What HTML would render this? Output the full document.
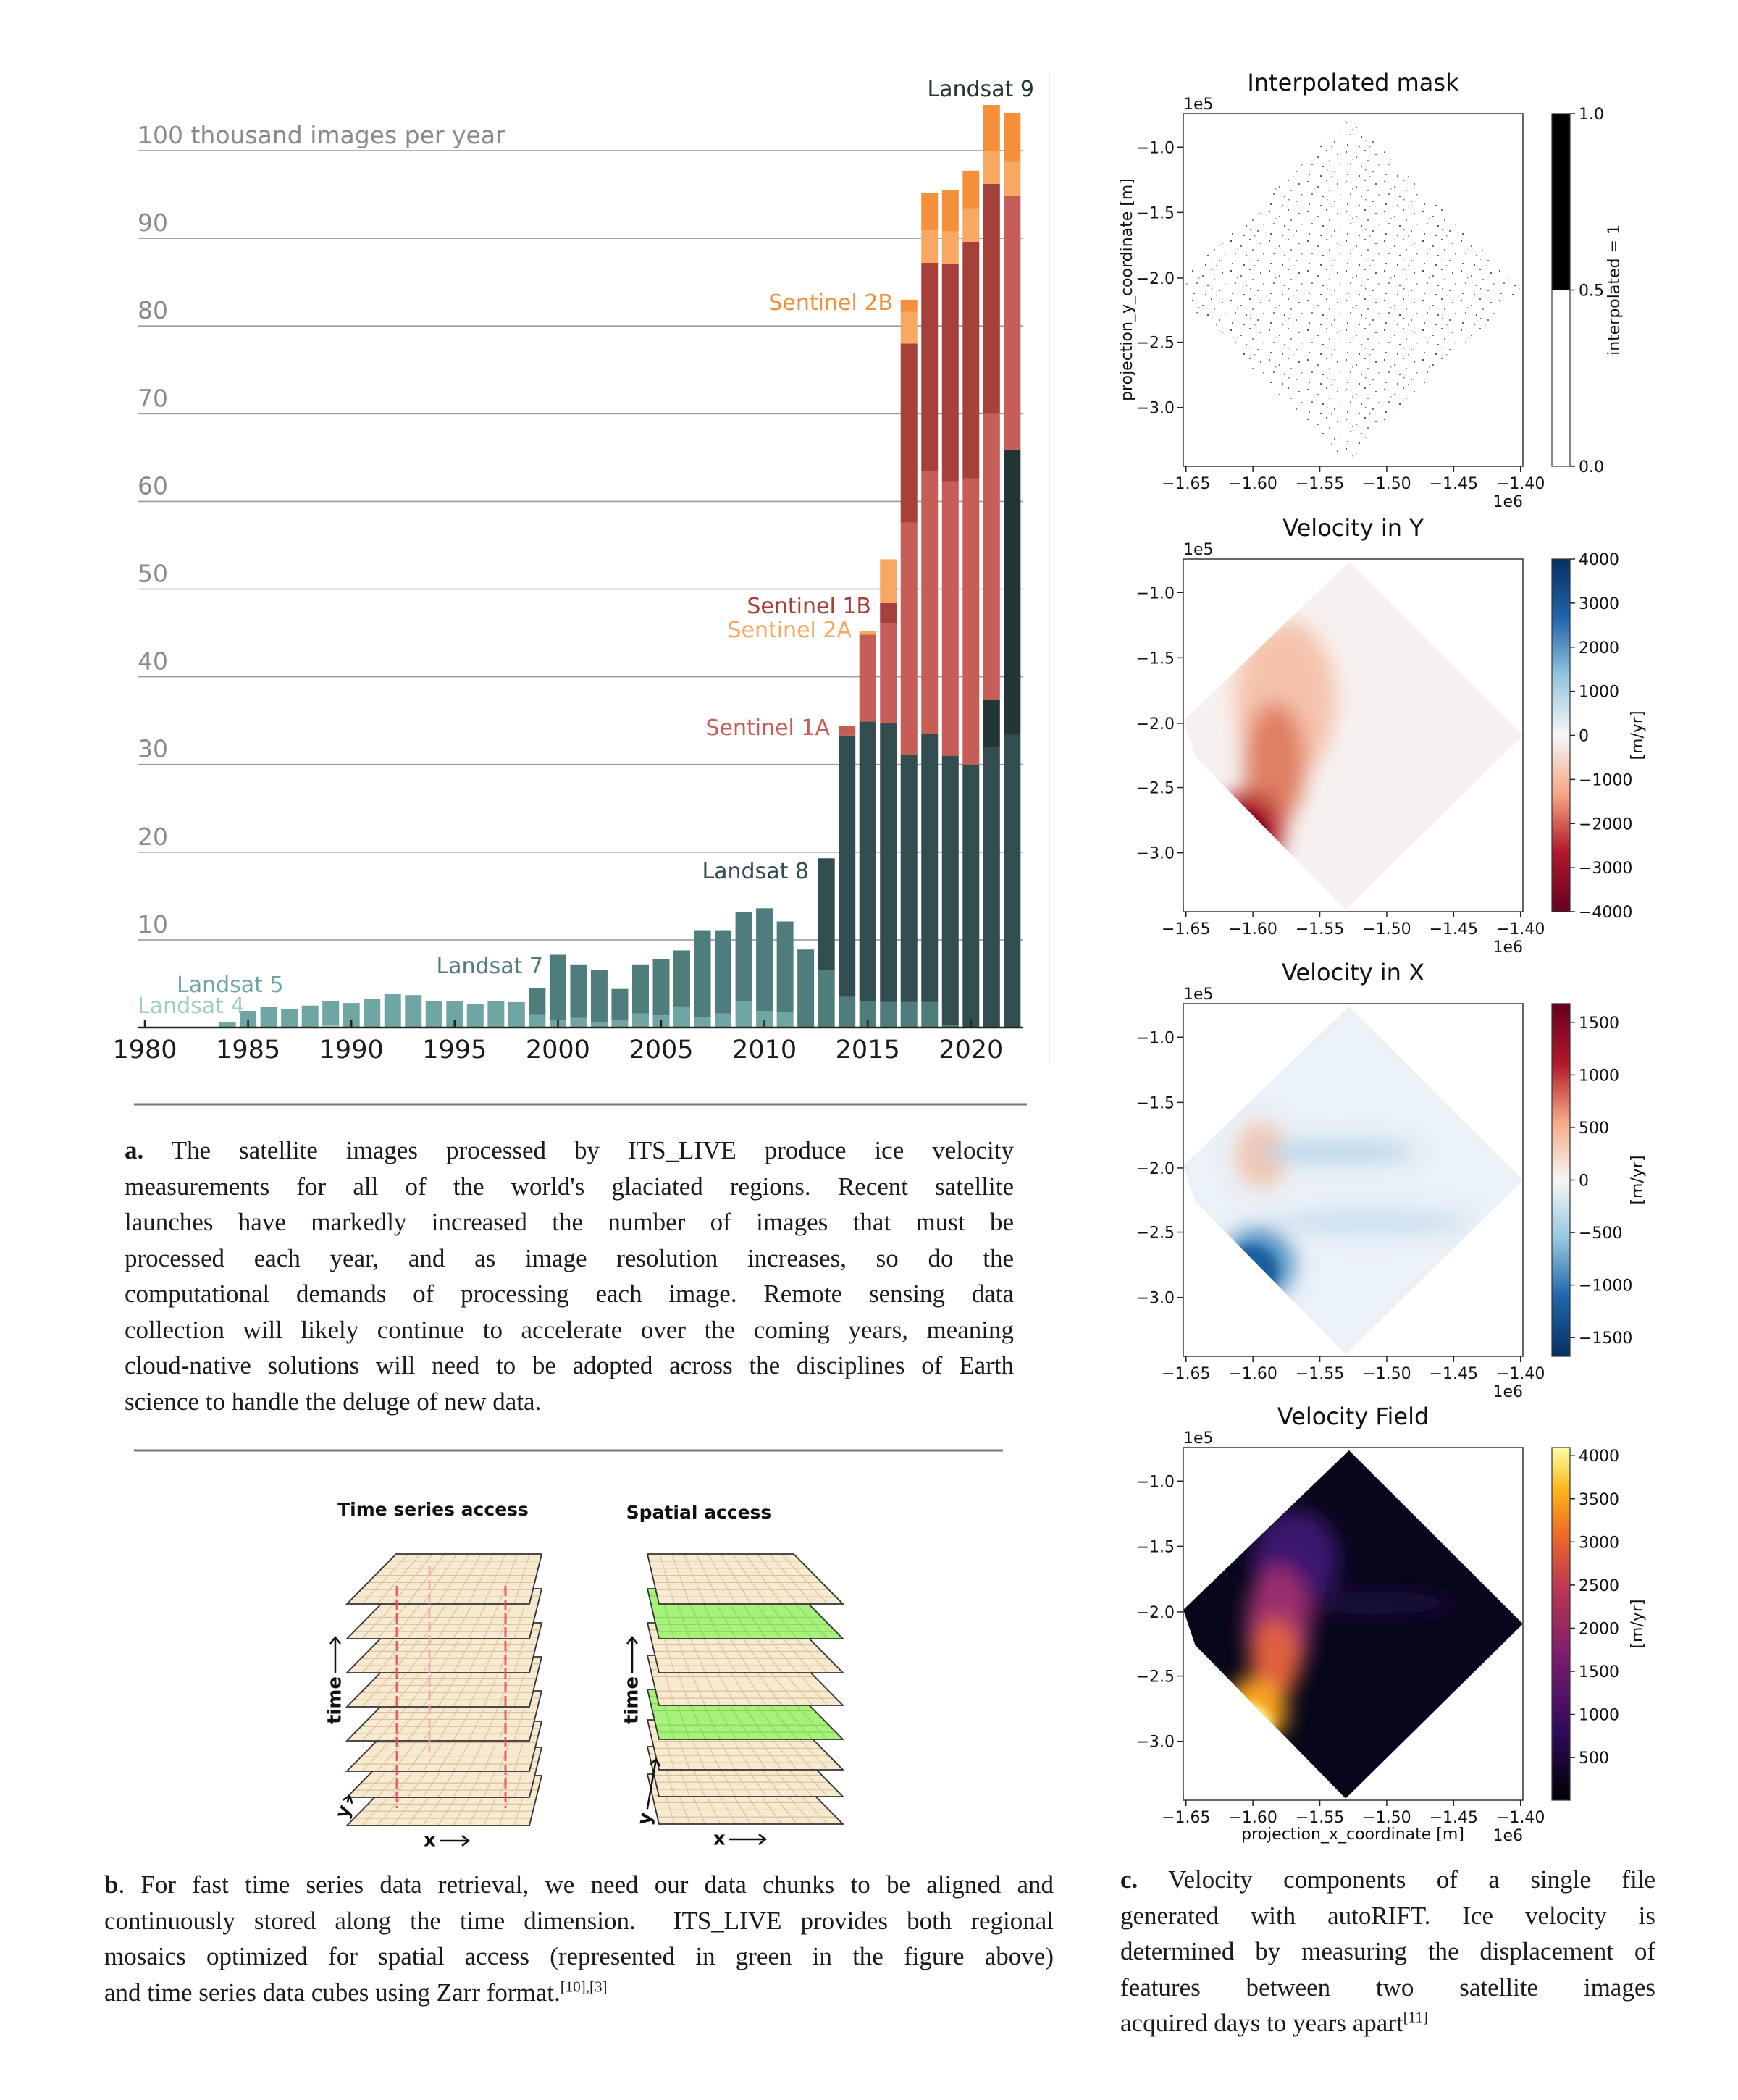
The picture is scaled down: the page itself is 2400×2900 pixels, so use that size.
<!DOCTYPE html>
<html><head><meta charset="utf-8">
<style>
body{margin:0;background:#fff;}
#page{position:relative;width:2400px;height:2900px;overflow:hidden;background:#fff;}
.cap{position:absolute;font-family:"Liberation Serif",serif;font-size:35px;color:#1a1a1a;}
.cap div{height:49.5px;line-height:49.5px;text-align:justify;text-align-last:justify;white-space:nowrap;}
.cap div.last{text-align-last:left;}
.cap sup{line-height:0;font-size:21px;vertical-align:super;}
svg text{font-family:"DejaVu Sans","Liberation Sans",sans-serif;}
</style></head>
<body>
<div id="page">
<svg id="svg" width="2400" height="2900" viewBox="0 0 2400 2900" xmlns="http://www.w3.org/2000/svg" style="position:absolute;left:0;top:0">
<defs>
 <filter id="blur1" x="-50%" y="-50%" width="200%" height="200%"><feGaussianBlur stdDeviation="14"/></filter>
 <filter id="blur2" x="-50%" y="-50%" width="200%" height="200%"><feGaussianBlur stdDeviation="6"/></filter>
 <linearGradient id="cmRdBu" x1="0" y1="0" x2="0" y2="1">
  <stop offset="0" stop-color="#053061"/><stop offset="0.17" stop-color="#2166ac"/><stop offset="0.33" stop-color="#92c5de"/>
  <stop offset="0.5" stop-color="#f7f7f7"/><stop offset="0.67" stop-color="#f4a582"/><stop offset="0.83" stop-color="#b2182b"/><stop offset="1" stop-color="#67001f"/>
 </linearGradient>
 <linearGradient id="cmBuRd" x1="0" y1="0" x2="0" y2="1">
  <stop offset="0" stop-color="#67001f"/><stop offset="0.17" stop-color="#b2182b"/><stop offset="0.33" stop-color="#f4a582"/>
  <stop offset="0.5" stop-color="#f7f7f7"/><stop offset="0.67" stop-color="#92c5de"/><stop offset="0.83" stop-color="#2166ac"/><stop offset="1" stop-color="#053061"/>
 </linearGradient>
 <linearGradient id="cmInferno" x1="0" y1="1" x2="0" y2="0">
  <stop offset="0" stop-color="#000004"/><stop offset="0.2" stop-color="#320a5e"/><stop offset="0.4" stop-color="#781c6d"/>
  <stop offset="0.6" stop-color="#bc3754"/><stop offset="0.75" stop-color="#ed6925"/><stop offset="0.88" stop-color="#fbb61a"/><stop offset="1" stop-color="#fcffa4"/>
 </linearGradient>
 <pattern id="dots" width="53" height="41" patternUnits="userSpaceOnUse">
  <rect x="3" y="4" width="2" height="2" fill="#222"/><rect x="17" y="11" width="2" height="2" fill="#444"/>
  <rect x="29" y="2" width="2" height="2" fill="#333"/><rect x="9" y="21" width="2" height="2" fill="#555"/>
  <rect x="24" y="24" width="2" height="2" fill="#222"/><rect x="33" y="16" width="2" height="2" fill="#666"/>
  <rect x="12" y="14" width="1.5" height="1.5" fill="#777"/><rect x="44" y="7" width="2" height="2" fill="#333"/>
  <rect x="40" y="31" width="2" height="2" fill="#444"/><rect x="5" y="35" width="2" height="2" fill="#333"/>
  <rect x="48" y="22" width="1.5" height="1.5" fill="#555"/><rect x="21" y="37" width="2" height="2" fill="#222"/>
  <rect x="36" y="38" width="1.5" height="1.5" fill="#666"/><rect x="30" y="29" width="1.5" height="1.5" fill="#444"/>
 </pattern>
</defs>
<g id="bars"></g>
<g id="panelB"></g>
<g id="panelC"></g>
<line x1="185" y1="1525" x2="1418" y2="1525" stroke="#777" stroke-width="3"/>
<line x1="185" y1="2003" x2="1385" y2="2003" stroke="#777" stroke-width="3"/>
</svg>

<div class="cap" style="left:172px;top:1564px;width:1228px">
<div><b>a.</b> The satellite images processed by ITS_LIVE produce ice velocity</div>
<div>measurements for all of the world's glaciated regions. Recent satellite</div>
<div>launches have markedly increased the number of images that must be</div>
<div>processed each year, and as image resolution increases, so do the</div>
<div>computational demands of processing each image. Remote sensing data</div>
<div>collection will likely continue to accelerate over the coming years, meaning</div>
<div>cloud-native solutions will need to be adopted across the disciplines of Earth</div>
<div class="last">science to handle the deluge of new data.</div>
</div>
<div class="cap" style="left:144px;top:2578px;width:1311px">
<div><b>b</b>. For fast time series data retrieval, we need our data chunks to be aligned and</div>
<div>continuously stored along the time dimension.&nbsp; ITS_LIVE provides both regional</div>
<div>mosaics optimized for spatial access (represented in green in the figure above)</div>
<div class="last">and time series data cubes using Zarr format.<sup>[10],[3]</sup></div>
</div>
<div class="cap" style="left:1547px;top:2571px;width:739px">
<div><b>c.</b> Velocity components of a single file</div>
<div>generated with autoRIFT. Ice velocity is</div>
<div>determined by measuring the displacement of</div>
<div>features between two satellite images</div>
<div class="last">acquired days to years apart<sup>[11]</sup></div>
</div>
</div>

<script>
// ---------- bar chart data ----------
const years = [1984,1985,1986,1987,1988,1989,1990,1991,1992,1993,1994,1995,1996,1997,1998,1999,2000,2001,2002,2003,2004,2005,2006,2007,2008,2009,2010,2011,2012,2013,2014,2015,2016,2017,2018,2019,2020,2021,2022];
const landsat4 = [0,0,0,0,0,0.3,0,0,0,0,0,0,0,0,0,0,0,0,0,0,0,0,0,0,0,0,0,0,0,0,0,0,0,0,0,0,0,0,0];
const landsat5 = [0.6,1.9,2.4,2.1,2.5,2.7,2.8,3.3,3.8,3.7,3.0,3.0,2.7,3.0,2.9,1.5,0.8,1.1,0.6,0.8,1.6,1.4,2.4,1.2,1.6,3.0,1.9,1.7,0,0,0,0,0,0,0,0,0,0,0];
const landsat7 = [0,0,0,0,0,0,0,0,0,0,0,0,0,0,0,3.0,7.5,6.1,6.0,3.6,5.6,6.4,6.4,9.9,9.5,10.2,11.7,10.4,8.9,6.6,3.5,3.0,2.9,2.9,2.9,0.3,0,0,0];
const landsat8 = [0,0,0,0,0,0,0,0,0,0,0,0,0,0,0,0,0,0,0,0,0,0,0,0,0,0,0,0,0,12.7,29.8,31.9,31.8,28.2,30.6,30.7,30.0,31.9,33.4];
const landsat9 = [0,0,0,0,0,0,0,0,0,0,0,0,0,0,0,0,0,0,0,0,0,0,0,0,0,0,0,0,0,0,0,0,0,0,0,0,0,5.5,32.5];
const sentinel1A = [0,0,0,0,0,0,0,0,0,0,0,0,0,0,0,0,0,0,0,0,0,0,0,0,0,0,0,0,0,0,1.1,9.9,11.4,26.5,30.0,31.3,32.6,32.6,29.0];
const sentinel1B = [0,0,0,0,0,0,0,0,0,0,0,0,0,0,0,0,0,0,0,0,0,0,0,0,0,0,0,0,0,0,0,0,2.3,20.4,23.7,24.8,27.0,26.2,0];
const sentinel2A = [0,0,0,0,0,0,0,0,0,0,0,0,0,0,0,0,0,0,0,0,0,0,0,0,0,0,0,0,0,0,0,0.4,5.0,3.6,3.7,3.7,3.8,3.8,3.8];
const sentinel2B = [0,0,0,0,0,0,0,0,0,0,0,0,0,0,0,0,0,0,0,0,0,0,0,0,0,0,0,0,0,0,0,0,0,1.4,4.3,4.7,4.3,5.2,5.6];
const gridValues = [10,20,30,40,50,60,70,80,90];
const xTickYears = [1980,1985,1990,1995,2000,2005,2010,2015,2020];

const NS='http://www.w3.org/2000/svg';
function mk(tag,attrs,parent){const e=document.createElementNS(NS,tag);for(const k in attrs)e.setAttribute(k,attrs[k]);if(parent)parent.appendChild(e);return e;}
function txt(parent,x,y,s,size,fill,anchor,extra){const t=mk('text',Object.assign({x:x,y:y,'font-size':size,fill:fill,'text-anchor':anchor||'start'},extra||{}),parent);t.textContent=s;return t;}

const bars=document.getElementById('bars');
const xs=y=>200+(y-1980)*28.52;
const ys=v=>1419-v*12.11;
const BW=23;
gridValues.concat([100]).forEach(v=>{
  const l=mk('line',{x1:190,x2:1413,y1:ys(v),y2:ys(v),stroke:'#9a9a9a','stroke-width':1.6},bars);
  
  
});
gridValues.forEach(v=>{
  const t=txt(bars,190,ys(v)-10,String(v),33,'#8a8a8a','start',{'font-family':'Liberation Sans'});
  
  
});
{const t=txt(bars,190,ys(100)-10,'100 thousand images per year',33,'#8a8a8a','start',{'font-family':'Liberation Sans'});
 
 }
{const l=mk('line',{x1:1449,x2:1449,y1:98,y2:1470,stroke:'#eee','stroke-width':2},bars);
 
 }
const series=[['landsat-4',landsat4,'#9fcbc8'],['landsat-5',landsat5,'#6fa6a4'],['landsat-7',landsat7,'#4f7d7c'],['landsat-8',landsat8,'#324d4f'],['landsat-9',landsat9,'#213635'],['sentinel-1a',sentinel1A,'#c75d57'],['sentinel-1b',sentinel1B,'#a6403b'],['sentinel-2a',sentinel2A,'#f7a863'],['sentinel-2b',sentinel2B,'#f5903a']];
years.forEach((yr,i)=>{
  let base=0;
  series.forEach(([nm,arr,col])=>{
    const v=arr[i]; if(!v) return;
    const r=mk('rect',{x:xs(yr)-BW/2,y:ys(base+v),width:BW,height:v*12.11,fill:col},bars);
    
    
    base+=v;
  });
});
{const l=mk('line',{x1:190,x2:1413,y1:1419,y2:1419,stroke:'#222','stroke-width':2.5},bars);
 
 }
xTickYears.forEach(yr=>{
  const l=mk('line',{x1:xs(yr),x2:xs(yr),y1:1408,y2:1419,stroke:'#222','stroke-width':2.5},bars);
  
  
  const t=txt(bars,xs(yr),1461,String(yr),35,'#1a1a1a','middle',{'font-family':'Liberation Sans'});
  
  
});
const labels=[['Landsat 9',1428,133,'#213635','end'],['Sentinel 2B',1233,428,'#f0913a','end'],['Sentinel 1B',1203,847,'#a6403b','end'],['Sentinel 2A',1176,880,'#f7a863','end'],['Sentinel 1A',1146,1015,'#c75d57','end'],['Landsat 8',1117,1213,'#324d4f','end'],['Landsat 7',750,1344,'#4f7d7c','end'],['Landsat 5',244,1370,'#6fa6a4','start'],['Landsat 4',190,1399,'#9fcbc8','start']];
labels.forEach(([s,x,y,c,a])=>{
  const t=txt(bars,x,y,s,30,c,a,{'font-family':'Liberation Sans'});
  
  
});

// ---------- panel b ----------
const pb=document.getElementById('panelB');
{const t=txt(pb,598,2093,'Time series access',25,'#111','middle',{'font-weight':'bold','font-family':'DejaVu Sans'});
 
 
 const t2=txt(pb,965,2097,'Spatial access',25,'#111','middle',{'font-weight':'bold','font-family':'DejaVu Sans'});
 
 }
function layer(tl,tr,br,bl,green,name){
  const g=mk('g',{},pb);
  
  
  const fill=green?'#a6f27a':'#f8ead0', gc=green?'#86d65c':'#d8c29e';
  mk('polygon',{points:[tl,tr,br,bl].map(p=>p.join(',')).join(' '),fill:fill,stroke:'none'},g);
  const lerp=(a,b,t)=>[a[0]+(b[0]-a[0])*t,a[1]+(b[1]-a[1])*t];
  for(let i=1;i<12;i++){const t=i/12;const a=lerp(tl,tr,t),b=lerp(bl,br,t);mk('line',{x1:a[0],y1:a[1],x2:b[0],y2:b[1],stroke:gc,'stroke-width':1.2},g);}
  for(let i=1;i<7;i++){const t=i/7;const a=lerp(tl,bl,t),b=lerp(tr,br,t);mk('line',{x1:a[0],y1:a[1],x2:b[0],y2:b[1],stroke:gc,'stroke-width':1.2},g);}
  mk('polygon',{points:[tl,tr,br,bl].map(p=>p.join(',')).join(' '),fill:'none',stroke:'#333','stroke-width':1.8},g);
}
const leftTops=[2146,2194,2241,2288,2335,2377,2413,2452];
for(let i=leftTops.length-1;i>=0;i--){const t=leftTops[i];layer([547,t],[748,t],[731,t+69],[479,t+69],false,'time-layer-'+i);}
[548,593,698].forEach((x,k)=>{
  const l=mk('line',{x1:x,y1:k==1?2163:2190,x2:x,y2:k==1?2420:2497,stroke:k==1?'#f3a0b0':'#e8455f','stroke-width':3,'stroke-dasharray':'14 5',opacity:k==1?0.8:0.85},pb);
  
  
});
const rightTops=[2146,2194,2241,2286,2333,2375,2412,2450];
for(let i=rightTops.length-1;i>=0;i--){const t=rightTops[i];layer([894,t],[1096,t],[1164,t+69],[910,t+69],i==1||i==4,'spatial-layer-'+i);}
function arrowLabel(x,y,label,len,rot){
  const g=mk('g',{transform:'translate('+x+','+y+') rotate('+rot+')'},pb);
  
  
  txt(g,0,0,label,26,'#111','start',{'font-family':'Liberation Mono','font-weight':'bold','dominant-baseline':'middle'});
  const w=label.length*16+6;
  mk('line',{x1:w,y1:0,x2:w+len,y2:0,stroke:'#111','stroke-width':2.5},g);
  mk('polyline',{points:(w+len-9)+',-7 '+(w+len)+',0 '+(w+len-9)+',7',fill:'none',stroke:'#111','stroke-width':2.5},g);
}
arrowLabel(585,2542,'x',40,0);
arrowLabel(985,2540,'x',50,0);
arrowLabel(463,2381,'time',50,-90);
arrowLabel(873,2381,'time',50,-90);
arrowLabel(890,2520,'y',70,-80);
arrowLabel(472,2510,'y',10,-70);

// ---------- panel c ----------
const pc=document.getElementById('panelC');
const AX=1634, AW=469, AH=487;
const panelTops=[157,772,1386,1999];
const yTickVals=['−1.0','−1.5','−2.0','−2.5','−3.0'];
const yTickFrac=[0.095,0.28,0.466,0.648,0.833];
const xTickVals=['−1.65','−1.60','−1.55','−1.50','−1.45','−1.40'];
const titles=['Interpolated mask','Velocity in Y','Velocity in X','Velocity Field'];
const cbTicks=[['1.0','0.5','0.0'],['4000','3000','2000','1000','0','−1000','−2000','−3000','−4000'],['1500','1000','500','0','−500','−1000','−1500'],['4000','3500','3000','2500','2000','1500','1000','500']];
const cbStart=[0,0,0.053,0.023], cbStep=[0.5,0.125,0.149,0.1223];
const cbFill=['mask','url(#cmRdBu)','url(#cmBuRd)','url(#cmInferno)'];
const cbLabel=['interpolated = 1','[m/yr]','[m/yr]','[m/yr]'];
const diamond=[[0.488,0.008],[1.0,0.5],[0.478,0.995],[0.035,0.56],[0.0,0.46]];
panelTops.forEach((T,p)=>{
  const g=mk('g',{},pc);
  
  
  const ttl=txt(g,AX+AW/2,T-32,titles[p],32,'#111','middle');
  
  
  txt(g,AX,T-6,'1e5',22,'#111','start');
  const cid='clip'+p;
  const cp=mk('clipPath',{id:cid},g);
  const pts=diamond.map(([fx,fy])=>(AX+fx*AW)+','+(T+fy*AH)).join(' ');
  mk('polygon',{points:pts},cp);
  const px=f=>AX+f*AW, py=f=>T+f*AH;
  const img=mk('g',{'clip-path':'url(#'+cid+')'},g);
  
  
  if(p===0){
    mk('rect',{x:AX,y:T,width:AW,height:AH,fill:'#fff'},img);
    mk('rect',{x:AX,y:T,width:AW,height:AH,fill:'url(#dots)',opacity:0.75},img);
  } else if(p===1){
    mk('rect',{x:AX,y:T,width:AW,height:AH,fill:'#f6f1f0'},img);
    const b=mk('g',{filter:'url(#blur1)'},img);
    mk('ellipse',{cx:px(0.3),cy:py(0.4),rx:70,ry:110,fill:'#f5c3ac'},b);
    mk('ellipse',{cx:px(0.27),cy:py(0.58),rx:42,ry:85,fill:'#e07f64'},b);
    mk('ellipse',{cx:px(0.19),cy:py(0.77),rx:50,ry:55,fill:'#b32a33'},b);
    const b2=mk('g',{filter:'url(#blur2)'},img);
    mk('ellipse',{cx:px(0.17),cy:py(0.79),rx:38,ry:40,fill:'#7a0520'},b2);
  } else if(p===2){
    mk('rect',{x:AX,y:T,width:AW,height:AH,fill:'#eaf1f7'},img);
    const b=mk('g',{filter:'url(#blur1)'},img);
    mk('ellipse',{cx:px(0.23),cy:py(0.43),rx:35,ry:45,fill:'#f2c4b0'},b);
    mk('ellipse',{cx:px(0.45),cy:py(0.42),rx:110,ry:15,fill:'#b8d4e8'},b);
    mk('ellipse',{cx:px(0.55),cy:py(0.62),rx:140,ry:14,fill:'#c7dced'},b);
    mk('ellipse',{cx:px(0.22),cy:py(0.74),rx:50,ry:50,fill:'#4f90c4'},b);
    const b2=mk('g',{filter:'url(#blur2)'},img);
    mk('ellipse',{cx:px(0.2),cy:py(0.76),rx:36,ry:36,fill:'#1f5e9c'},b2);
  } else {
    mk('rect',{x:AX,y:T,width:AW,height:AH,fill:'#07061a'},img);
    const b=mk('g',{filter:'url(#blur1)'},img);
    mk('ellipse',{cx:px(0.33),cy:py(0.32),rx:60,ry:70,fill:'#3a1670'},b);
    mk('ellipse',{cx:px(0.55),cy:py(0.44),rx:120,ry:16,fill:'#1e0f40'},b);
    mk('ellipse',{cx:px(0.28),cy:py(0.5),rx:45,ry:80,fill:'#9a2f6e'},b);
    mk('ellipse',{cx:px(0.27),cy:py(0.6),rx:35,ry:55,fill:'#e0603c'},b);
    mk('ellipse',{cx:px(0.21),cy:py(0.75),rx:45,ry:45,fill:'#f9a51e'},b);
    const b2=mk('g',{filter:'url(#blur2)'},img);
    mk('ellipse',{cx:px(0.19),cy:py(0.79),rx:33,ry:32,fill:'#fbf09a'},b2);
  }
  mk('rect',{x:AX,y:T,width:AW,height:AH,fill:'none',stroke:'#333','stroke-width':1.5},g);
  yTickFrac.forEach((f,i)=>{
    mk('line',{x1:AX-8,x2:AX,y1:py(f),y2:py(f),stroke:'#222','stroke-width':1.5},g);
    const t=txt(g,AX-12,py(f)+8,yTickVals[i],22,'#111','end');
    
    
  });
  xTickVals.forEach((s,i)=>{
    const x=AX+AW*(0.008+0.197*i);
    mk('line',{x1:x,x2:x,y1:T+AH,y2:T+AH+8,stroke:'#222','stroke-width':1.5},g);
    const t=txt(g,x,T+AH+31,s,22,'#111','middle');
    
    
  });
  txt(g,AX+AW,T+AH+56,'1e6',22,'#111','end');
  const CX=2143, CW=25;
  const cb=mk('g',{},g);
  
  
  if(p===0){
    mk('rect',{x:CX,y:T,width:CW,height:AH/2,fill:'#000'},cb);
    mk('rect',{x:CX,y:T+AH/2,width:CW,height:AH/2,fill:'#fff'},cb);
  } else mk('rect',{x:CX,y:T,width:CW,height:AH,fill:cbFill[p]},cb);
  mk('rect',{x:CX,y:T,width:CW,height:AH,fill:'none',stroke:'#333','stroke-width':1.2},cb);
  cbTicks[p].forEach((s,i)=>{
    const y=T+AH*(cbStart[p]+cbStep[p]*i);
    mk('line',{x1:CX+CW,x2:CX+CW+7,y1:y,y2:y,stroke:'#222','stroke-width':1.5},cb);
    const t=txt(cb,CX+CW+12,y+8,s,22,'#111','start');
    
    
  });
  const lx=p===0?2236:2268;
  const cl=txt(cb,lx,T+AH/2,cbLabel[p],22,'#111','middle',{transform:'rotate(-90 '+lx+' '+(T+AH/2)+')','font-family':'Liberation Sans'});
  
  
});
{const t=txt(pc,1563,400,'projection_y_coordinate [m]',22,'#111','middle',{transform:'rotate(-90 1563 400)','font-family':'Liberation Sans'});
 
 
 const t2=txt(pc,1868,2540,'projection_x_coordinate [m]',22,'#111','middle');
 
 }
</script>
</body></html>
